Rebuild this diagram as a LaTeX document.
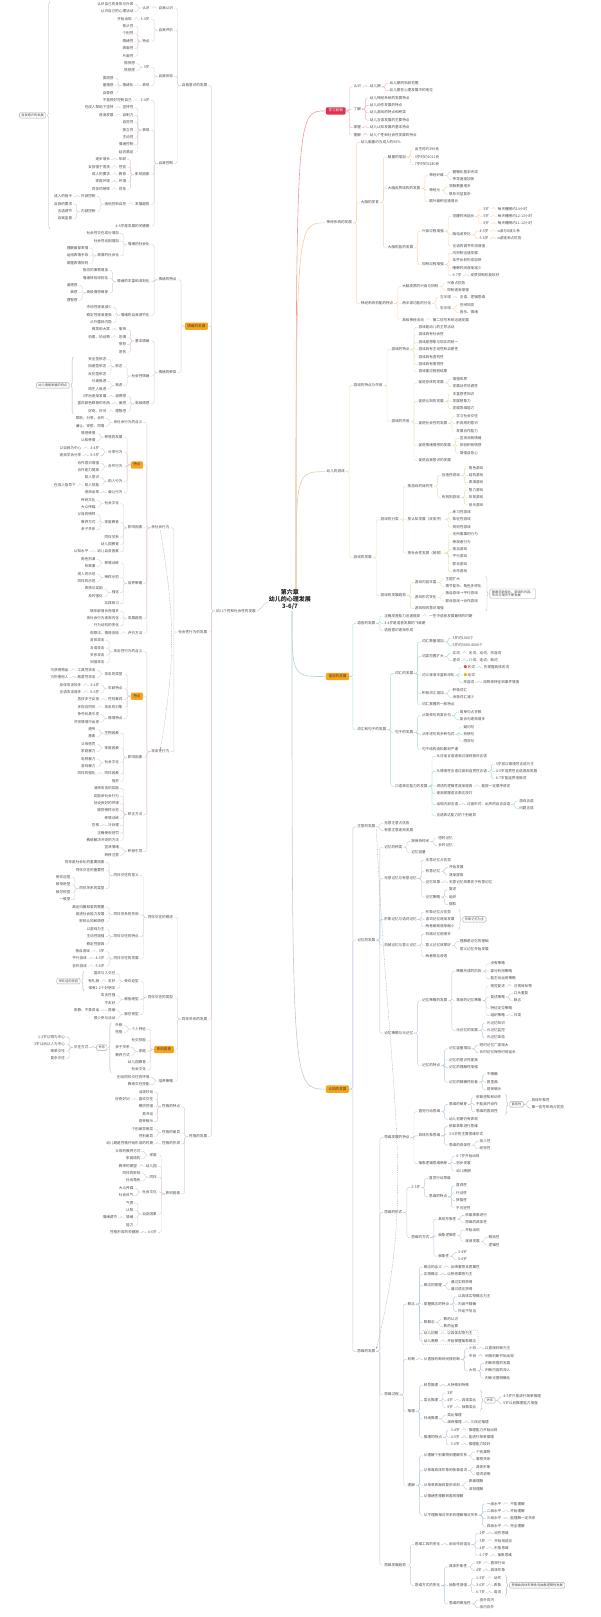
\documentclass[tikz,border=0pt]{standalone}
\usepackage{fontspec}
\setmainfont{Noto Sans CJK SC}
\usepackage{forest}
\usetikzlibrary{calc,fit,decorations.pathreplacing,arrows.meta}
\definecolor{tx}{HTML}{4A4A4A}
\definecolor{cA}{HTML}{F2B3BA}
\definecolor{cB}{HTML}{F8D5B2}
\definecolor{cC}{HTML}{DFE2B2}
\definecolor{cD}{HTML}{A8DCD1}
\definecolor{cE}{HTML}{BCCCDD}
\definecolor{cL}{HTML}{DFCCDB}
\definecolor{boxred}{HTML}{E0314F}
\definecolor{boxorg}{HTML}{F8A41C}
\definecolor{dotred}{HTML}{E8453C}
\tikzset{
  tleaf/.style={font=\fontsize{3.6pt}{4.3pt}\selectfont, text=tx, inner xsep=0.8pt, inner ysep=0.55pt, text height=2.9pt, text depth=0.8pt},
  thinln/.style={draw=gray!45, line width=0.4pt, rounded corners=1.6pt},
  mainln/.style={line width=0.6pt},
  sumbox/.style={draw=gray!70, rounded corners=1.2pt, fill=white, font=\fontsize{3.2pt}{3.9pt}\selectfont, text=tx, inner xsep=2pt, inner ysep=1.3pt, line width=0.4pt, align=left},
  brc/.style={draw=gray!60, line width=0.4pt, decorate, decoration={brace, amplitude=2.5pt}},
  rel/.style={draw=gray!70, line width=0.35pt, dash pattern=on 1.2pt off 1pt, -{Stealth[length=2.2pt,width=1.8pt]}},
  grpbox/.style={draw=gray!60, dash pattern=on 1pt off 1pt, rounded corners=2pt, inner sep=1pt, line width=0.35pt},
}
\forestset{
  nb/.style={font=\fontsize{3.6pt}{4.3pt}\selectfont, text=tx, inner xsep=0.8pt, inner ysep=0.55pt, text height=2.9pt, text depth=0.8pt, s sep=2.2pt, l sep=7pt, l=0, fit=band, calign=midpoint},
  rtree/.style={for tree={nb, grow'=0, anchor=west, parent anchor=east, child anchor=west,
     edge path={\noexpand\path[\forestoption{edge}] (!u.parent anchor) -- ++(3.5pt,0) |- (.child anchor)\forestoption{edge label};}}},
  ltree/.style={for tree={nb, grow=180, anchor=east, parent anchor=west, child anchor=east,
     edge path={\noexpand\path[\forestoption{edge}] (!u.parent anchor) -- ++(-3.5pt,0) |- (.child anchor)\forestoption{edge label};}}},
  ec/.style={for tree={edge={draw=#1, line width=0.4pt, rounded corners=1.6pt}}},
  rbox/.style={fill=boxred, text=white, rounded corners=1.2pt, inner xsep=2.6pt, inner ysep=1.8pt},
  obox/.style={fill=boxorg, text=black!75, rounded corners=1.2pt, inner xsep=2.6pt, inner ysep=1.8pt},
}
\newcommand\sumR[3]{%
  \node[inner sep=0pt, fit=#1] (#2g) {};
  \draw[brc] ([xshift=3pt]#2g.north east) -- ([xshift=3pt]#2g.south east);
  \node[sumbox, anchor=west] (#2) at ([xshift=7pt]#2g.east) {#3};}
\newcommand\sumL[3]{%
  \node[inner sep=0pt, fit=#1] (#2g) {};
  \draw[brc] ([xshift=-3pt]#2g.south west) -- ([xshift=-3pt]#2g.north west);
  \node[sumbox, anchor=east] (#2) at ([xshift=-7pt]#2g.west) {#3};}
\newcommand\bchR[4]{%
  \node[tleaf, anchor=west] (#2) at ([xshift=7pt,yshift=#3pt]#1.east) {#4};
  \draw[thinln] (#1.east) -- ++(3.5pt,0) |- (#2.west);}
\newcommand\bchL[4]{%
  \node[tleaf, anchor=east] (#2) at ([xshift=-7pt,yshift=#3pt]#1.west) {#4};
  \draw[thinln] (#1.west) -- ++(-3.5pt,0) |- (#2.east);}
\newcommand\extras{%
  \pgfresetboundingbox
  \useasboundingbox ([shift={(-290pt,600pt)}]C.center) rectangle ([shift={(310pt,-1017pt)}]C.center);
  \coordinate (cu) at ([xshift=6pt,yshift=-1pt]C.north);
  \coordinate (cd) at ([xshift=2pt,yshift=1pt]C.south);
  \draw[mainln, draw=cA!85!red] (cu) .. controls (cu |- b1) .. (b1.west);
  \draw[mainln, draw=cB!90!orange] (cu) .. controls (cu |- b2) .. (b2.west);
  \draw[mainln, draw=cC!90!olive] (cu) .. controls (cu |- b3) .. (b3.west);
  \draw[mainln, draw=cD] (cd) .. controls (cd |- b4) .. (b4.west);
  \draw[mainln, draw=cE] (cd) .. controls (cd |- b5) .. (b5.west);
  \draw[mainln, draw=cL] ([yshift=-2pt]C.west) .. controls +(-4pt,0) and +(4pt,0) .. (Lm.east);
  \sumR{(ta)(tz)(tw1)(tw2)}{S1}{随着年龄增长，游戏的内容、\\形式与规则不断发展}
  \sumR{(ma)(mz)(mw)}{S2}{形象记忆为主}
  \sumR{(tha)(thz)(thw)}{S3}{直观性}
  \bchR{S3}{S3a}{3.5}{具体形象性}
  \bchR{S3}{S3b}{-3.5}{第一信号系统占优势}
  \sumR{(rla)(rlz)(rlv)(rlw)}{S4}{关系}
  \bchR{S4}{S4a}{3.5}{4-5岁只能进行简单推理}
  \bchR{S4}{S4b}{-3.5}{5岁以后推理能力增强}
  \sumR{(ska)(sk1)(sk2)(sk3)}{S5}{思维由具体形象性向抽象逻辑性发展}
  \node[grpbox, fit=(cpa)(cpz)(cpa2)(cpz2)] (G1) {};
  \sumL{(s6a)(s6z)(s6w1)(s6w2)}{S6}{自我意识的发展}
  \sumL{(s7a)(s7z)(s7w)}{S7}{幼儿情绪发展的特点}
  \sumL{(s8a)(s8z)(s8w)}{S8}{受欢迎的原因}
  \sumL{(s9a)(s9z)(s9w)}{S9}{关系}
  \bchL{S9}{S9c}{0}{交往方式}
  \bchL{S9c}{S9d}{10.5}{1-2岁以物为中心}
  \bchL{S9c}{S9e}{3.5}{3岁以后以人为中心}
  \bchL{S9c}{S9f}{-3.5}{简单交往}
  \bchL{S9c}{S9h}{-10.5}{复杂交往}
  \draw[rel] (att.south east) .. controls +(14pt,-280pt) and +(40pt,160pt) .. (thk.north east);
  \draw[rel] (pro.south) .. controls +(15pt,-90pt) and +(15pt,90pt) .. (agg.north);
}
\begin{document}
\begin{forest}
[, phantom, grow=south, s sep=4pt, l sep=0pt
 [, phantom, name=LP, ltree, fit=tight, l sep=5pt, before drawing tree={for tree={y-=18pt}}
  [幼儿个性和社会性的发展, name=Lm, ec=cL, no edge, before drawing tree={y+=7pt}
   [自我意识的发展, name=L1
    [自我认识 [认识 [认识自己的身体与外表, name=s6a] [认识自己的心理活动]]]
    [自我评价 [3-4岁 [开始出现]] [特点 [依从性] [个别性] [情绪性] [表面性] [片面性]]]
    [自我体验 [3岁 [愉快感] [愤怒感]] [表现 [情绪化 [委屈感] [羞愧感] [自尊感]]]]
    [自我控制 [3-4岁 [不能很好控制自己]] [表现 [坚持性 [在成人帮助下坚持]] [自制力 [逐渐发展]] [自觉性] [独立性] [主动性] [情绪控制] [延迟满足]] [影响因素 [年龄 [逐步增长]] [性别 [女孩强于男孩]] [教育 [成人的要求]] [环境 [家庭环境]] [同伴 [同伴的榜样]]] [发展趋势 [由他控到自控 [外部控制 [成人的指令, name=s6w1]] [内部控制 [自我的要求, name=s6w2] [言语调节] [自我监督]]]] [4-5岁是发展的关键期, name=s6z]]
   ]
   [情绪的发展, name=L2, obox
    [情绪的特点
     [情绪的社会化, name=e1 [社会性交往成分增加] [社会性动因增加] [表情的社会化 [理解面部表情] [运用表情手段] [掌握表情规则]]]
     [情绪的丰富和深刻化 [指向的事物增加] [情绪体验深刻化] [高级情感萌芽 [道德感] [美感] [理智感]]]
     [情绪的自我调节化 [冲动性逐渐减少] [稳定性逐渐提高] [从外露到内隐]]
    ]
    [情绪的种类
     [基本情绪 [愉快 [微笑和大笑]] [恐惧 [怕黑、怕动物]] [愤怒] [悲伤]]
     [社会性情绪 [依恋 [安全型依恋, name=s7a] [回避型依恋] [反抗型依恋]] [焦虑 [分离焦虑] [陌生人焦虑]]]
     [高级情感 [道德感 [3岁后逐渐发展]] [美感 [喜欢颜色鲜艳的东西, name=s7w]] [理智感 [好奇、好问, name=s7z]]]
    ]
   ]
   [社会性行为的发展, name=L3, before drawing tree={y+=7.7pt}
    [亲社会行为, name=pro
     [亲社会行为的含义 [帮助、分享、合作] [谦让、安慰、同情]]
     [特点, obox [移情的发展 [情感移情] [认知移情]] [分享行为 [3-4岁 [以自我为中心]] [5-6岁 [逐渐学会分享]]] [合作行为 [合作意识增强] [合作能力提高]] [助人行为 [助人意识] [助人技能 [在成人指导下]]] [谦让行为 [逐渐出现]]]
     [影响因素 [社会文化 [传统文化] [大众传媒]] [家庭教育 [父母的榜样] [教养方式] [亲子关系]] [同伴关系] [幼儿园教育] [幼儿自身因素 [认知水平]]]
     [培养策略 [移情训练 [角色扮演] [听故事]] [榜样示范 [成人的示范] [同伴的示范]] [强化 [表扬与奖励] [及时强化]] [实践练习]]
     [发展趋势 [随年龄增长而增多] [亲社会行为逐渐内化] [行为动机的变化]]
     [评价方法 [观察法、情境测验]]
    ]
    [攻击性行为, name=agg
     [攻击性行为的含义 [身体攻击] [言语攻击] [关系攻击] [间接攻击]]
     [特点, obox [攻击的类型 [工具性攻击 [为获得物品]] [敌意性攻击 [为伤害他人]]] [年龄特点 [3-4岁 [身体攻击较多]] [5-6岁 [言语攻击增多]]] [性别差异 [男孩多于女孩]] [攻击的对象 [多指向同伴]] [情境特点 [争夺玩具引发] [冲突情境中出现]]]
     [影响因素 [生物因素 [遗传] [激素]] [家庭因素 [父母惩罚] [家庭暴力]] [社会文化 [电视暴力] [游戏暴力]] [同伴因素 [同伴的强化]] [挫折]]
     [矫正方法 [消除攻击的奖励] [奖励亲社会行为] [创设良好的环境] [提供榜样示范] [移情训练] [冷处理 [忽视]] [正确使用惩罚] [教给解决冲突的方法]]
     [积极引导 [宣泄情绪] [转移注意]]
    ]
   ]
   [同伴关系的发展, name=L4, before drawing tree={y-=20pt}
    [同伴交往的概述
     [同伴交往的意义 [同伴是社会化的重要因素] [同伴交往的重要性] [同伴关系的类型 [受欢迎型] [被拒绝型] [被忽视型] [一般型]]]
     [同伴关系的作用 [满足归属和爱的需要] [促进社会能力发展] [影响认知和情感]]
     [同伴交往的特点 [以游戏为主] [主动性增强] [稳定性提高]]
     [同伴交往的发展 [3岁 [独自游戏]] [4-5岁 [平行游戏]] [5-6岁 [合作游戏]]]
    ]
    [同伴交往的类型
     [受欢迎型 [喜欢与人交往, name=s8a] [友好 [有礼貌, name=s8w]] [常有1-2个好朋友, name=s8z]]
     [被拒绝型 [攻击性强] [不友好]]
     [被忽视型 [退缩 [安静、不爱说话]] [很少参与活动]]
    ]
    [影响因素, obox [个人特征 [外貌, name=s9a] [性格]] [社交技能] [家庭 [亲子关系] [教养方式, name=s9w]] [幼儿园教育] [社会文化, name=s9z]]
    [培养策略 [创设同伴交往的环境] [教给交往技能]]
   ]
   [性格的发展, name=L5, before drawing tree={y+=14pt}
    [性格的特点 [活泼好动] [喜欢交往 [好奇好问]] [模仿性强] [易冲动] [易受暗示]]
    [性格的差异 [个别差异明显] [性别差异]]
    [性格的形成 [幼儿期是性格开始形成的时期]]
    [影响因素 [家庭 [父母的教养方式] [家庭结构]] [幼儿园 [教师的期望]] [同伴 [同伴的影响] [社会角色]] [社会文化 [大众传媒] [社会风气]] [自身因素 [气质] [认知] [情绪 [情绪调节]] [能力]] [4-6岁 [性格形成的关键期, name=lt9]]]
   ]
  ]
 ]
 [{第六章\\幼儿的心理发展\\3-6/7}, name=C, align=center, font=\bfseries\fontsize{6pt}{7.4pt}\selectfont, text=black!85, inner sep=1pt, anchor=center, l=0, no edge, tikz={\extras}]
 [, phantom, name=RP, rtree, fit=tight, l sep=7.5pt
  [学习目标, name=b1, rbox, ec=cA, no edge
   [认识 [幼儿期 [幼儿期的年龄范围, name=rt0] [幼儿期在心理发展中的地位]]]
   [了解 [幼儿神经系统的发展特点] [幼儿动作发展的特点] [幼儿游戏的特点和种类] [幼儿言语发展的主要特点]]
   [掌握 [幼儿认知发展的基本特点]]
   [理解 [幼儿个性和社会性发展的特点]]
  ]
  [神经系统的发展, name=b2, ec=cB, no edge
   [幼儿脑重约为成人的90\%, name=na0]
   [大脑的发育
    [脑重的增加 [出生时约390克] [3岁时约1011克] [7岁时约1280克]]
    [大脑皮质结构的发展 [神经纤维 [髓鞘化基本完成] [传导速度加快]] [神经元 [突触数量增多] [联系日益复杂]] [额叶面积迅速增长]]
    [大脑机能的发展
     [兴奋过程增强
      [觉醒时间延长 [3岁 [每天睡眠约14小时]] [5岁 [每天睡眠约12-13小时]] [6岁 [每天睡眠约11-12小时]]]
      [脑电波变化 [4-5岁 [α波与θ波斗争]] [5-6岁 [α波逐渐占优势]]]
      [言语的调节作用增强]]
     [抑制过程增强 [内抑制迅速发展] [条件反射形成加快] [睡眠时间逐渐减少] [6-7岁 [皮质抑制机能较好]]]
    ]
   ]
   [神经系统机能的特点
    [大脑皮质的兴奋与抑制 [兴奋占优势] [抑制逐渐增强]]
    [两半球功能的分化 [左半球 [言语、逻辑思维]] [右半球 [空间知觉] [音乐、情绪]]]
    [高级神经活动 [第二信号系统迅速发展, name=na9]]
   ]
  ]
  [幼儿的游戏, name=b3, ec=cC, no edge
   [游戏的特点与作用
    [游戏的特点 [游戏是幼儿的主导活动, name=ga0] [游戏具有社会性] [游戏是想象与现实的统一] [游戏具有主动性和自愿性] [游戏具有虚构性] [游戏具有愉悦性] [游戏重过程轻结果]]
    [游戏的作用
     [促进身体的发展 [增强体质] [发展动作协调性]]
     [促进认知的发展 [丰富感性知识] [发展想象力] [发展思维能力]]
     [促进社会性的发展 [学习社会交往] [形成规则意识] [发展合作能力]]
     [促进情绪情感的发展 [宣泄消极情绪] [体验积极情感] [增强自信心]]
     [促进自我意识的发展]
    ]
   ]
   [游戏的发展
    [游戏的分类
     [按游戏的目的性 [创造性游戏 [角色游戏] [结构游戏] [表演游戏]] [有规则游戏 [智力游戏] [体育游戏] [音乐游戏]]]
     [按认知发展（皮亚杰） [练习性游戏] [象征性游戏] [规则性游戏]]
     [按社会性发展（帕顿） [无所事事的行为] [旁观者行为] [独自游戏] [平行游戏] [联合游戏] [合作游戏]]
    ]
    [游戏的发展趋势
     [游戏内容丰富 [主题扩大, name=ta] [情节复杂、角色多样化, name=tw1]]
     [游戏形式变化 [独自游戏→平行游戏] [联合游戏→合作游戏, name=tw2]]
     [游戏规则意识增强, name=tz]
    ]
   ]
  ]
  [语言的发展, name=b4, obox, ec=cD, no edge
   [语音的发展 [正确发音能力迅速提高 [一生中语音发展最快的时期, name=la0]] [3-4岁是语音发展的飞跃期] [语音意识逐渐形成]]
   [词汇和句子的发展
    [词汇的发展
     [词汇数量增加 [3岁约1000个] [6岁约3000-4000个]]
     [词类范围扩大 [实词 [名词、动词、形容词]] [虚词 [介词、连词、助词]]]
     [词义逐渐丰富和深化 [{\textcolor{dotred}{●}\,名词} [先掌握具体名词]] [{\textcolor{boxorg}{●}\,动词}] [形容词 [由物体特征到事件情境]]]
     [积极词汇增加 [积极词汇] [消极词汇减少]]
     [词汇掌握的一般特点]
    ]
    [句子的发展 [从简单句到复合句 [简单句占多数] [复合句逐渐增多]] [从陈述句到多种句式 [疑问句] [祈使句] [感叹句]] [句子结构由松散到严谨]]
    [口语表达能力的发展
     [从对话言语逐渐过渡到独白言语]
     [从情境性言语过渡到连贯性言语 [3岁前以情境性言语为主] [4-5岁连贯性言语逐渐发展] [6-7岁能连贯地叙述]]
     [讲述的逻辑性逐渐提高 [能按一定顺序讲述]]
     [逐渐掌握语言表达技巧]
     [出现内部言语 [过渡形式：出声的自言自语 [游戏言语] [问题言语]]]
     [言语表达能力的个别差异, name=la9]
    ]
   ]
  ]
  [认知的发展, name=b5, obox, ec=cE, no edge
   [注意的发展, name=att [无意注意占优势, name=ca0] [有意注意逐渐发展]]
   [记忆的发展, name=mem
    [记忆的种类 [按保持时间 [短时记忆] [长时记忆]] [记忆容量]]
    [无意记忆与有意记忆 [无意记忆占优势] [有意记忆 [开始发展] [逐渐提高]] [记忆效果 [无意记忆效果优于有意记忆]] [记忆策略 [复述] [组织] [提取]]]
    [形象记忆与语词记忆 [形象记忆占优势, name=ma] [语词记忆逐渐发展, name=mw] [两者差距逐渐缩小, name=mz]]
    [机械记忆与意义记忆 [机械记忆用得多] [意义记忆效果好 [理解是记忆的基础] [意义记忆开始发展]] [两者相互渗透]]
    [记忆策略与元记忆
     [记忆策略的发展
      [策略形成的阶段 [没有策略] [部分利用策略] [能主动运用策略]]
      [常用的记忆策略 [视觉复述 [注视目标物]] [复述策略 [口头重复] [默念]] [特征定位策略] [组织策略 [归类]]]
      [元记忆的发展 [元记忆知识] [元记忆监控] [元记忆体验]]
     ]
     [记忆的特点
      [记忆容量增加 [短时记忆广度增大] [长时记忆保持时间延长]]
      [记忆的意识性提高]
      [记忆的理解性增强]
      [记忆的精确性较差 [不精确] [易歪曲] [易受暗示]]
     ]
    ]
   ]
   [思维的发展, name=thk
    [思维发展的特点
     [直觉行动思维 [思维的萌芽 [依靠感知和动作, name=tha] [不能离开动作, name=thw] [思维的直观性, name=thz]] [幼儿初期仍有表现]]
     [具体形象思维 [依靠表象进行思维] [3-6岁的主要思维形式] [思维的具体性 [拟人性] [经验性]]]
     [抽象逻辑思维萌芽 [6-7岁开始出现] [初步发展] [幼儿晚期]]
    ]
    [思维的形式
     [2-3岁 [直觉行动思维] [思维的特点 [直观性] [行动性] [狭隘性] [不可逆性]]]
     [思维的方式 [具体形象性 [依靠表象进行] [思维的具体性]] [抽象逻辑性 [开始出现] [逐渐发展 [概括性] [逻辑性]]] [抽象性 [3-4岁] [5-6岁]]]
    ]
    [思维过程
     [概念 [概念的含义 [反映事物本质属性]] [实物概念 [以熟悉事物为主]] [概念的掌握 [通过实例获得] [通过语言获得]] [掌握概念的特点 [以具体实物概念为主] [内涵不精确] [外延不恰当]] [数概念 [数的认识] [数的运算]] [幼儿初期, name=cpa [以具体实物为主, name=cpa2]] [幼儿晚期, name=cpz [开始掌握抽象概念, name=cpz2]]]
     [判断 [从直接判断到间接判断 [小班 [以直接判断为主]] [中班 [间接判断开始出现]] [大班 [判断依据的发展] [判断内容的深入] [判断论据明确化]]]]
     [推理 [转导推理 [从特殊到特殊]] [类比推理 [3岁, name=rla] [4岁 [具体类比, name=rlv]] [5岁, name=rlz [抽象类比, name=rlw]]] [归纳推理 [类比推理] [演绎推理 [三段论推理]]] [推理的特点 [3-4岁 [推理能力开始出现]] [4-5岁 [能进行简单推理]] [5-6岁 [推理能力较好]]]]
     [理解 [从理解个别事物到理解关系 [个别事物] [事物关系]] [从依靠具体形象到依靠语词 [具体形象] [语词说明]] [从简单表面到复杂深刻 [表面理解] [深刻理解]] [从情绪性理解到客观理解] [从不理解相对关系到理解相对关系 [一级水平 [不能理解]] [二级水平 [开始理解]] [三级水平 [能理解一定关系]] [四级水平 [完全理解]]]]
    ]
    [思维发展趋势
     [思维工具的变化 [由动作到语言 [2岁 [动作思维]] [3岁 [开始用语言]] [4岁 [形象思维]] [6-7岁 [抽象思维]]]]
     [思维方式的变化 [具体形象性 [3岁 [直观行动]] [4岁 [具体形象]]] [抽象性增强, name=ska [1-3岁 [动作, name=sk1]] [3-6岁 [表象, name=sk2]] [6-7岁 [语词, name=sk3]]] [思维的概括性 [由外向内] [由内向外, name=rt9]]]
    ]
   ]
  ]
 ]
]
\end{forest}
\end{document}
